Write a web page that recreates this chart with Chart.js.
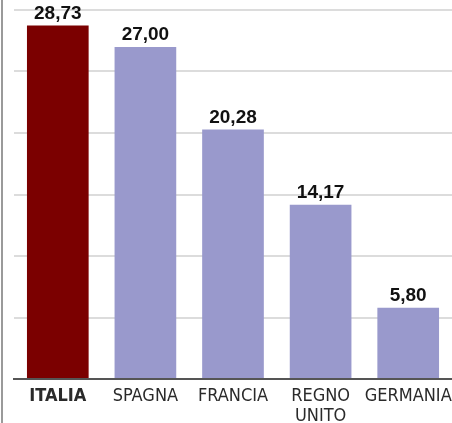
<!DOCTYPE html>
<html>
<head>
<meta charset="utf-8">
<script src="https://cdn.jsdelivr.net/npm/chart.js@4"></script>
<style>
  html, body { margin: 0; padding: 0; background: #fff; overflow: hidden; }
  #wrap { position: relative; width: 452px; height: 423px; overflow: hidden; }
  #edge { position: absolute; left: 1px; top: 0; width: 2px; height: 423px; background: #9a9a9a; }
</style>
</head>
<body>
<div id="wrap">
  <canvas id="chart" width="452" height="433"></canvas>
  <div id="edge"></div>
</div>
<script>
// values
const countries = ['ITALIA', 'SPAGNA', 'FRANCIA', ['REGNO', 'UNITO'], 'GERMANIA'];
const values = [28.73, 27.00, 20.28, 14.17, 5.80];
const barColors = ['#7b0000', '#9999cc', '#9999cc', '#9999cc', '#9999cc'];

const narrow = "'Liberation Sans Narrow', 'DejaVu Sans Condensed', sans-serif";

// draws the numbers above each bar, italian style decimal comma
const valueLabels = {
    id: 'valueLabels',
    afterDatasetsDraw(chart) {
        const ctx = chart.ctx;
        const meta = chart.getDatasetMeta(0);
        ctx.save();
        ctx.font = "bold 19px 'Liberation Sans', Arial, sans-serif";
        ctx.fillStyle = '#111';
        ctx.textAlign = 'center';
        ctx.textBaseline = 'alphabetic';
        meta.data.forEach((bar, i) => {
            const txt = values[i].toFixed(2).replace('.', ',');
            ctx.fillText(txt, bar.x, bar.y - 7);
        });
        ctx.restore();
    }
};

new Chart(document.getElementById('chart'), {
    type: 'bar',
    data: {
        labels: countries,
        datasets: [{
            data: values,
            backgroundColor: barColors,
            borderWidth: 0,
            barPercentage: 0.8,
            categoryPercentage: 0.88
        }]
    },
    options: {
        responsive: false,
        animation: false,
        layout: { padding: { left: 14, top: 10, right: 0, bottom: 0 } },
        plugins: {
            legend: { display: false },
            tooltip: { enabled: false }
        },
        scales: {
            x: {
                // the long GERMANIA label would otherwise squeeze the plot
                afterFit: (scale) => { scale.paddingLeft = 0; scale.paddingRight = 0; },
                grid: { display: false, drawTicks: false },
                border: { display: true, color: '#555', width: 2 },
                ticks: {
                    padding: 7,
                    color: '#2a2a2a',
                    maxRotation: 0,
                    autoSkip: false,
                    font: (c) => ({
                        family: narrow,
                        size: 18,
                        lineHeight: '20px',
                        weight: c.index === 0 ? 'bold' : 'normal'
                    })
                }
            },
            y: {
                min: 0,
                max: 30,
                ticks: { display: false, stepSize: 5 },
                grid: { color: '#dcdcdc', lineWidth: 2, drawTicks: false },
                border: { display: false }
            }
        }
    },
    plugins: [valueLabels]
});
</script>
</body>
</html>
